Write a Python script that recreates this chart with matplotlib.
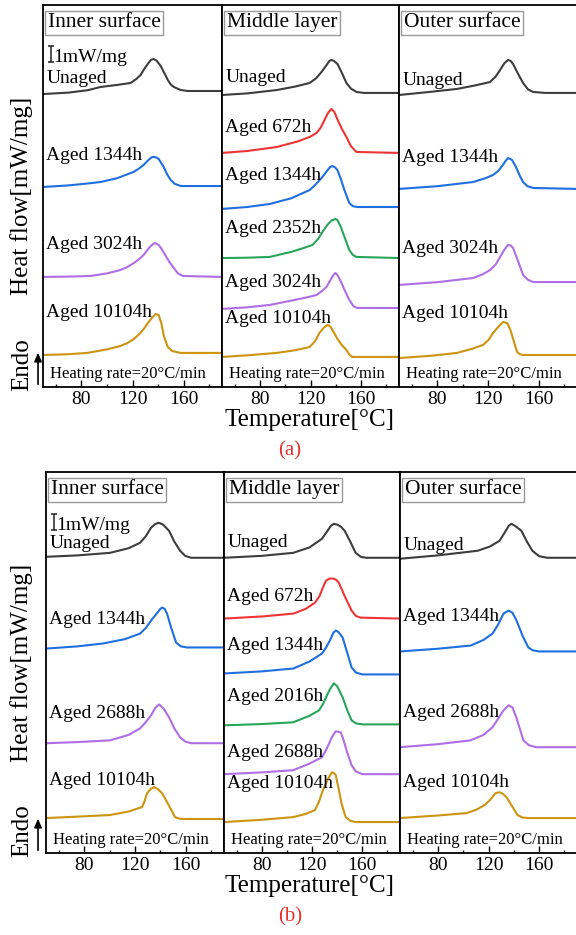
import matplotlib
matplotlib.use('Agg')
from matplotlib import pyplot as plt
from matplotlib.ticker import FixedLocator

plt.rcParams['font.family'] = ['Liberation Serif', 'DejaVu Serif']

# DSC heating curves, (temperature [°C], heat flow [mW/mg]) with the stacking shift included
# ---- (a) ----
a_inner_labels = ['Unaged', 'Aged 1344h', 'Aged 3024h', 'Aged 10104h']
a_inner = [
	[(50, 18.31), (70, 18.4), (85, 18.55), (95, 18.75), (108, 18.88), (118.5, 19.0), (123, 19.25), (126.3, 19.5),
	 (129, 19.85), (131.9, 20.19), (134.5, 20.45), (136.6, 20.5), (138.8, 20.4), (142.1, 20.06), (145, 19.6),
	 (147.6, 19.19), (150, 18.9), (152.3, 18.75), (157.8, 18.56), (163.3, 18.5), (190, 18.5)],
	[(50, 12.5), (70, 12.6), (85, 12.72), (94.9, 12.81), (108, 13.05), (120.8, 13.44), (125, 13.65), (128.7, 13.88),
	 (132, 14.15), (134.8, 14.35), (136.6, 14.38), (138.5, 14.35), (140.5, 14.25), (144.4, 13.75), (147, 13.3),
	 (149.9, 12.94), (153, 12.7), (157.8, 12.56), (190, 12.56)],
	[(50, 6.88), (70, 6.9), (87, 6.94), (100, 7.1), (110, 7.3), (116.1, 7.5), (122, 7.8), (126, 8.05), (128.7, 8.25),
	 (131.5, 8.55), (134.2, 8.81), (137.4, 9.0), (140.5, 8.88), (143, 8.6), (146, 8.19), (149, 7.8), (152.3, 7.44),
	 (155.5, 7.1), (159.4, 6.94), (190, 6.88)],
	[(50, 2.0), (70, 2.05), (84.6, 2.13), (100, 2.35), (110, 2.55), (116.1, 2.75), (121, 3.0), (126.3, 3.38),
	 (129.5, 3.7), (132.6, 4.06), (135.5, 4.35), (138.1, 4.56), (140.5, 4.5), (142.5, 4.0), (144.5, 3.2),
	 (147.6, 2.5), (151, 2.25), (157.8, 2.13), (190, 2.13)],
]
a_middle_labels = ['Unaged', 'Aged 672h', 'Aged 1344h', 'Aged 2352h', 'Aged 3024h', 'Aged 10104h']
a_middle = [
	[(50, 18.25), (70, 18.35), (93.3, 18.56), (108, 18.78), (119.3, 19.0), (124.5, 19.3), (128.7, 19.69),
	 (132.5, 20.1), (135, 20.38), (136.6, 20.44), (138.5, 20.38), (141.3, 20.19), (145, 19.6), (148.4, 19.0),
	 (152, 18.65), (156.3, 18.44), (162.5, 18.38), (190, 18.38)],
	[(50, 14.63), (70, 14.75), (93.3, 15.0), (110, 15.35), (120, 15.65), (124.8, 15.88), (128, 16.2),
	 (131.1, 16.69), (134, 17.15), (136.6, 17.38), (138.9, 17.19), (142, 16.6), (145, 16.1), (148.4, 15.63),
	 (152, 15.05), (156.3, 14.69), (190, 14.63)],
	[(50, 11.13), (70, 11.25), (87.8, 11.44), (105, 11.8), (119.3, 12.31), (124, 12.65), (128.7, 13.06),
	 (133, 13.5), (135.5, 13.75), (137.4, 13.81), (139.5, 13.72), (141.3, 13.56), (144, 13.0), (146.8, 12.31),
	 (150.7, 11.5), (153.5, 11.3), (157, 11.25), (190, 11.25)],
	[(50, 8.06), (70, 8.08), (87.8, 8.13), (105, 8.45), (115, 8.7), (121.6, 8.88), (126, 9.25), (129.5, 9.69),
	 (133, 10.1), (136.5, 10.4), (139.7, 10.5), (141.3, 10.44), (144, 10.0), (147, 9.35), (150.7, 8.56),
	 (153.5, 8.25), (156.3, 8.13), (190, 8.06)],
	[(50, 4.88), (70, 4.98), (87.8, 5.13), (105, 5.4), (117, 5.6), (124.8, 5.75), (129, 6.0), (132.6, 6.25),
	 (135.5, 6.65), (138, 6.98), (139.7, 7.13), (141.3, 7.0), (144, 6.6), (147, 6.05), (150.7, 5.44),
	 (154, 5.05), (157, 4.94), (190, 4.94)],
	[(50, 1.88), (70, 1.98), (93.3, 2.13), (108, 2.3), (119.3, 2.5), (123.5, 2.85), (127.1, 3.38), (130.5, 3.7),
	 (133.4, 3.88), (135.5, 3.8), (137.4, 3.56), (141, 3.05), (144.5, 2.65), (148.4, 2.31), (151, 2.0),
	 (153.1, 1.88), (190, 1.88)],
]
a_outer_labels = ['Unaged', 'Aged 1344h', 'Aged 3024h', 'Aged 10104h']
a_outer = [
	[(50, 18.25), (75, 18.45), (95.6, 18.63), (110, 18.85), (121.6, 19.06), (126, 19.4), (129.5, 19.81),
	 (133, 20.25), (135.8, 20.44), (137.8, 20.38), (139.7, 20.19), (143.5, 19.6), (147.6, 19.0), (151.5, 18.6),
	 (155.5, 18.44), (164.9, 18.38), (190, 18.38)],
	[(50, 12.38), (80, 12.55), (108.2, 12.81), (118, 13.05), (124, 13.25), (128, 13.5), (131.1, 13.81),
	 (134, 14.15), (135.8, 14.31), (138.9, 14.19), (142, 13.75), (145, 13.2), (147.6, 12.81), (151, 12.55),
	 (155.5, 12.44), (190, 12.38)],
	[(50, 6.38), (80, 6.55), (108.2, 6.81), (116, 7.05), (121.6, 7.31), (126, 7.65), (129.5, 8.13), (133, 8.6),
	 (135.8, 8.88), (137.8, 8.85), (139.7, 8.69), (143.5, 7.9), (147.6, 7.0), (151.5, 6.7), (155.5, 6.56),
	 (190, 6.56)],
	[(50, 1.81), (75, 1.95), (95.6, 2.13), (108, 2.4), (116.1, 2.63), (120.5, 2.95), (124, 3.38), (128, 3.75),
	 (131.9, 4.06), (135, 4.0), (137.5, 3.6), (140.5, 2.8), (142.9, 2.19), (145, 2.05), (147.6, 2.0), (190, 2.0)],
]

# ---- (b) ----
b_inner_labels = ['Unaged', 'Aged 1344h', 'Aged 2688h', 'Aged 10104h']
b_inner = [
	[(50, 18.56), (75, 18.65), (100.4, 18.81), (115, 19.1), (124, 19.44), (128.5, 19.85), (132.6, 20.38),
	 (136, 20.62), (138.9, 20.69), (142, 20.58), (146.8, 20.19), (151, 19.5), (155.5, 18.94), (159.5, 18.62),
	 (164.1, 18.5), (190, 18.5)],
	[(50, 12.81), (75, 12.95), (94.9, 13.13), (112, 13.4), (124, 13.75), (128.5, 14.1), (132.6, 14.56),
	 (137, 15.0), (140, 15.3), (141.3, 15.38), (143.3, 15.3), (145.2, 15.0), (148.5, 14.1), (152.3, 13.19),
	 (156, 12.95), (161, 12.88), (190, 12.88)],
	[(50, 6.88), (75, 6.95), (100.4, 7.06), (115, 7.4), (124, 7.81), (128.5, 8.2), (132.6, 8.63), (136, 9.1),
	 (138.9, 9.31), (142.5, 9.05), (146.8, 8.5), (151, 7.8), (155.5, 7.25), (159.5, 6.98), (164.1, 6.88),
	 (190, 6.88)],
	[(50, 2.19), (75, 2.28), (100.4, 2.38), (115, 2.6), (125.6, 2.88), (127.5, 3.25), (129.5, 3.75),
	 (132.5, 4.02), (135, 4.13), (138, 4.0), (141.3, 3.75), (146.5, 3.0), (151.5, 2.25), (155, 2.15),
	 (158.6, 2.13), (190, 2.13)],
]
b_middle_labels = ['Unaged', 'Aged 672h', 'Aged 1344h', 'Aged 2016h', 'Aged 2688h', 'Aged 10104h']
b_middle = [
	[(50, 18.5), (80, 18.62), (105.1, 18.81), (118, 19.15), (127.9, 19.69), (132, 20.15), (135, 20.5),
	 (137.4, 20.63), (140, 20.58), (143, 20.45), (146, 20.19), (150.5, 19.5), (154.7, 18.81), (159, 18.55),
	 (163.3, 18.5), (190, 18.5)],
	[(50, 14.69), (80, 14.82), (105.1, 15.0), (115, 15.3), (122.4, 15.69), (126, 16.1), (128.5, 16.6),
	 (131.1, 17.06), (134, 17.2), (137.4, 17.19), (139.5, 17.1), (141.3, 16.94), (146, 16.1), (151.5, 15.19),
	 (155, 14.85), (158.6, 14.75), (190, 14.69)],
	[(50, 11.25), (80, 11.38), (105.1, 11.56), (118, 12.0), (127.9, 12.5), (131, 12.85), (134.2, 13.31),
	 (137, 13.8), (138.9, 13.94), (141, 13.85), (144.4, 13.5), (148, 12.55), (151.5, 11.63), (155, 11.3),
	 (160.2, 11.19), (190, 11.19)],
	[(50, 8.0), (80, 8.08), (105.1, 8.19), (118, 8.6), (125.6, 8.94), (128.5, 9.3), (131.1, 9.75), (134.5, 10.3),
	 (137.4, 10.63), (140, 10.45), (144.4, 9.75), (148, 8.95), (151.5, 8.31), (155, 8.12), (160.2, 8.06),
	 (190, 8.06)],
	[(50, 4.94), (80, 5.05), (105.1, 5.19), (118, 5.6), (127.9, 6.0), (131.5, 6.5), (135.8, 7.25), (138.9, 7.63),
	 (142.9, 7.56), (145, 7.1), (148, 6.3), (151.5, 5.5), (155, 5.1), (160.2, 4.94), (190, 4.94)],
	[(50, 1.94), (80, 2.08), (105.1, 2.25), (115, 2.45), (122.4, 2.69), (125.5, 3.2), (128.7, 3.94), (132.5, 4.6),
	 (135.8, 5.06), (137.5, 5.0), (138.9, 4.88), (141, 4.1), (143.5, 3.1), (146.8, 2.25), (150.5, 2.02),
	 (154.7, 1.94), (190, 1.94)],
]
b_outer_labels = ['Unaged', 'Aged 1344h', 'Aged 2688h', 'Aged 10104h']
b_outer = [
	[(50, 18.44), (80, 18.65), (111.4, 18.94), (121, 19.2), (128.7, 19.56), (133, 20.1), (136, 20.5),
	 (138.1, 20.63), (141, 20.5), (146, 20.19), (150.5, 19.5), (154.7, 18.94), (160, 18.6), (166.5, 18.5),
	 (190, 18.5)],
	[(50, 12.63), (80, 12.8), (105.9, 13.0), (116, 13.35), (123.2, 13.75), (127.5, 14.3), (131.9, 15.0),
	 (135.8, 15.19), (138.9, 15.06), (142, 14.6), (147, 13.6), (151.5, 12.88), (155, 12.7), (160.2, 12.63),
	 (190, 12.63)],
	[(50, 6.63), (80, 6.82), (105.9, 7.06), (116, 7.4), (123.2, 7.88), (127.5, 8.4), (131.5, 8.9), (135.8, 9.25),
	 (138.9, 9.13), (142, 8.5), (147.6, 7.06), (152, 6.75), (157.8, 6.63), (190, 6.63)],
	[(50, 2.19), (80, 2.35), (102.7, 2.5), (110, 2.7), (116.9, 3.0), (121.5, 3.35), (125.6, 3.75), (128.7, 3.81),
	 (131.5, 3.7), (134.2, 3.5), (138.5, 2.95), (142.9, 2.38), (147, 2.22), (151.5, 2.19), (190, 2.19)],
]

panel_titles = ['Inner surface', 'Middle layer', 'Outer surface']
x_major = [80, 120, 160]
x_minor = [60, 100, 140, 180]

# where each curve name sits (heat-flow height of its baseline)
a_label_q = [[19.0, 14.19, 8.63, 4.38], [19.06, 15.94, 12.94, 9.63, 6.25, 4.0], [18.88, 14.06, 8.38, 4.31]]
b_label_q = [[19.13, 14.38, 8.44, 4.25], [19.19, 15.81, 12.69, 9.5, 6.0, 4.06], [19.0, 14.56, 8.5, 4.13]]

colors = {
	'Unaged': '#3d3d3d',
	'672h': '#ee3535',
	'1344h': '#1f6fe0',
	'2352h': '#27a65a',
	'2016h': '#27a65a',
	'3024h': '#b06ee6',
	'2688h': '#b06ee6',
	'10104h': '#cc9410',
}

W, H = 576, 935
xlim = (50, 190)
ylim = (0, 23.875)
label_red = '#e5322b'


def curve_color(name):
	return colors[name.split()[-1]]


def draw_block(fig, panels, lefts, bottom_px, top_px, label_q, scale_q, tag):
	bottom = 1 - bottom_px / H
	height = (bottom_px - top_px) / H
	axes = []
	for i, (curves, names) in enumerate(panels):
		left = lefts[i] / W
		width = (lefts[i + 1] - lefts[i]) / W
		ax = fig.add_axes([left, bottom, width, height])
		for pts, name in zip(curves, names):
			t = [p[0] for p in pts]
			q = [p[1] for p in pts]
			ax.plot(t, q, color=curve_color(name), lw=1.5, solid_joinstyle='round')
		for name, yq in zip(names, label_q[i]):
			ax.text(0.018, yq, name, transform=ax.get_yaxis_transform(), fontsize=14, va='baseline', ha='left')
		ax.text(0.028, 0.978, panel_titles[i], transform=ax.transAxes, fontsize=15.5, va='top', ha='left',
				bbox=dict(boxstyle='square,pad=0.12', fc='white', ec='0.6', lw=1.0))
		ax.text(0.04, 0.024, 'Heating rate=20°C/min', transform=ax.transAxes, fontsize=12, va='baseline', ha='left')
		ax.set_xlim(*xlim)
		ax.set_ylim(*ylim)
		ax.set_yticks([])
		ax.xaxis.set_major_locator(FixedLocator(x_major))
		ax.xaxis.set_minor_locator(FixedLocator(x_minor))
		ax.tick_params(axis='x', which='major', direction='in', length=5, width=1, labelsize=14, pad=3)
		ax.tick_params(axis='x', which='minor', direction='in', length=2.5, width=1)
		for s in ax.spines.values():
			s.set_linewidth(1.3)
		axes.append(ax)

	# 1 mW/mg scale bar in the first panel
	ax0 = axes[0]
	ax0.errorbar([56.5], [scale_q + 0.5], yerr=[[0.5], [0.5]], color='#222222', lw=1.1, capsize=2.2,
				 capthick=1.1)
	ax0.text(58.3, scale_q, '1mW/mg', fontsize=14, va='baseline', ha='left')

	mid = 1 - (bottom_px + top_px) / 2 / H
	fig.text(0.038, mid, 'Heat flow[mW/mg]', rotation=90, fontsize=18, ha='center', va='center')
	fig.text(0.038, 1 - (bottom_px - 22) / H, 'Endo', rotation=90, fontsize=18, ha='center', va='center')
	fig.add_artist(matplotlib.patches.FancyArrowPatch(
		(0.066, bottom), (0.066, 1 - (bottom_px - 37) / H), transform=fig.transFigure,
		arrowstyle='-|>,head_length=5,head_width=2.2', lw=1.2, color='black', mutation_scale=1))
	fig.text(0.538, 1 - (bottom_px + 33) / H, 'Temperature[°C]', fontsize=18, ha='center', va='center')
	fig.text(0.503, 1 - (bottom_px + 64) / H, tag, fontsize=15, color=label_red, ha='center', va='center')


def main():
	fig = plt.figure(figsize=(W / 100, H / 100), dpi=100)
	draw_block(fig, [(a_inner, a_inner_labels), (a_middle, a_middle_labels), (a_outer, a_outer_labels)],
			   [43, 222, 399, 577], 387, 5, a_label_q, 20.31, '(a)')
	draw_block(fig, [(b_inner, b_inner_labels), (b_middle, b_middle_labels), (b_outer, b_outer_labels)],
			   [46, 224, 400, 577], 853, 472, b_label_q, 20.25, '(b)')
	fig.savefig('out.png', dpi=100)


if __name__ == '__main__':
	main()
